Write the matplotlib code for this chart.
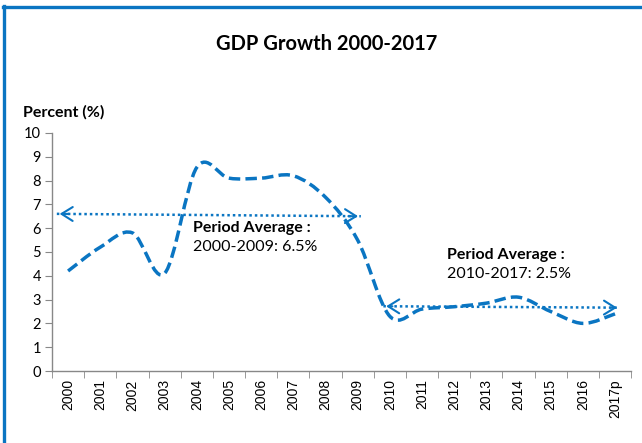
import numpy as np
import matplotlib
matplotlib.use("Agg")
import matplotlib.pyplot as plt
from matplotlib.path import Path
from matplotlib.patches import PathPatch
from matplotlib.lines import Line2D

# Data
years = ["2000", "2001", "2002", "2003", "2004", "2005", "2006", "2007", "2008",
         "2009", "2010", "2011", "2012", "2013", "2014", "2015", "2016", "2017p"]
growth = [4.2, 5.2, 5.8, 4.1, 8.55, 8.1, 8.1, 8.2, 7.3,
          5.5, 2.3, 2.6, 2.7, 2.85, 3.1, 2.5, 2.0, 2.4]

# period average arrows (start/end in category units and percent)
avg_early_x = [-0.35, 9.1]
avg_early_y = [6.6, 6.5]
avg_late_x = [9.8, 17.15]
avg_late_y = [2.72, 2.66]

yticks = list(range(0, 11))

BLUE = "#0A75C2"
FONT = "Lato"


def smooth_path(x, y):
    """Excel-like smoothed line as a chain of cubic Bezier segments."""
    n = len(x)
    verts = [(x[0], y[0])]
    codes = [Path.MOVETO]
    for i in range(n - 1):
        xp, yp = (x[i - 1], y[i - 1]) if i > 0 else (x[i], y[i])
        xn, yn = (x[i + 2], y[i + 2]) if i + 2 < n else (x[i + 1], y[i + 1])
        c1 = (x[i] + (x[i + 1] - xp) / 6, y[i] + (y[i + 1] - yp) / 6)
        c2 = (x[i + 1] - (xn - x[i]) / 6, y[i + 1] - (yn - y[i]) / 6)
        verts += [c1, c2, (x[i + 1], y[i + 1])]
        codes += [Path.CURVE4] * 3
    return Path(verts, codes)


def double_arrow(ax, xs, ys):
    ax.plot(xs, ys, color=BLUE, lw=1.8, linestyle=(0, (1, 1.2)))
    head = dict(arrowstyle="->,head_length=0.8,head_width=0.5", color=BLUE, lw=1.5)
    dx = 0.05 * (xs[1] - xs[0])
    dy = 0.05 * (ys[1] - ys[0])
    ax.annotate("", xy=(xs[0], ys[0]), xytext=(xs[0] + dx, ys[0] + dy), arrowprops=head)
    ax.annotate("", xy=(xs[1], ys[1]), xytext=(xs[1] - dx, ys[1] - dy), arrowprops=head)


fig = plt.figure(figsize=(6.42, 4.43), dpi=100)
ax = fig.add_axes([0.081, 0.1625, 0.902, 0.5375])

x = np.arange(len(years))
ax.add_patch(PathPatch(smooth_path(x, growth), fill=False, edgecolor=BLUE,
                       lw=2.5, linestyle=(0, (3.3, 1.5)), capstyle="butt"))

double_arrow(ax, avg_early_x, avg_early_y)
double_arrow(ax, avg_late_x, avg_late_y)

ax.text(3.88, 6.3, "Period Average :", fontsize=11.5, fontweight="bold",
        family=FONT, va="top")
ax.text(3.88, 5.5, "2000-2009: 6.5%", fontsize=11.5, family=FONT, va="top")
ax.text(11.77, 5.15, "Period Average :", fontsize=11.5, fontweight="bold",
        family=FONT, va="top")
ax.text(11.77, 4.35, "2010-2017: 2.5%", fontsize=11.5, family=FONT, va="top")

ax.set_xlim(-0.5, len(years) - 0.5)
ax.set_ylim(0, 10)
ax.set_yticks(yticks)
ax.set_yticklabels([str(v) for v in yticks], family=FONT, fontsize=10.5)
ax.set_xticks(x)
ax.set_xticklabels(years, rotation=90, fontsize=10, family="Liberation Sans")
ax.set_xticks(np.arange(-0.5, len(years)), minor=True)
ax.tick_params(axis="x", which="major", length=0, pad=6)
ax.tick_params(axis="x", which="minor", length=5, color="#888888")
ax.tick_params(axis="y", length=5, color="#888888", pad=3)

for side in ["top", "right"]:
    ax.spines[side].set_visible(False)
for side in ["left", "bottom"]:
    ax.spines[side].set_color("#888888")
    ax.spines[side].set_linewidth(1.0)

fig.text(0.508, 0.90, "GDP Growth 2000-2017", ha="center", va="center",
         fontsize=14.5, fontweight="bold", family=FONT)
fig.text(0.036, 0.747, "Percent (%)", ha="left", va="center",
         fontsize=11.5, fontweight="bold", family=FONT)

# blue frame at top and left
fig.add_artist(Line2D([0.005, 1.0], [0.984, 0.984], transform=fig.transFigure,
                      color=BLUE, lw=2.4))
fig.add_artist(Line2D([0.0068, 0.0068], [0.0, 0.986], transform=fig.transFigure,
                      color=BLUE, lw=2.4))

fig.savefig("out.png", dpi=100)
